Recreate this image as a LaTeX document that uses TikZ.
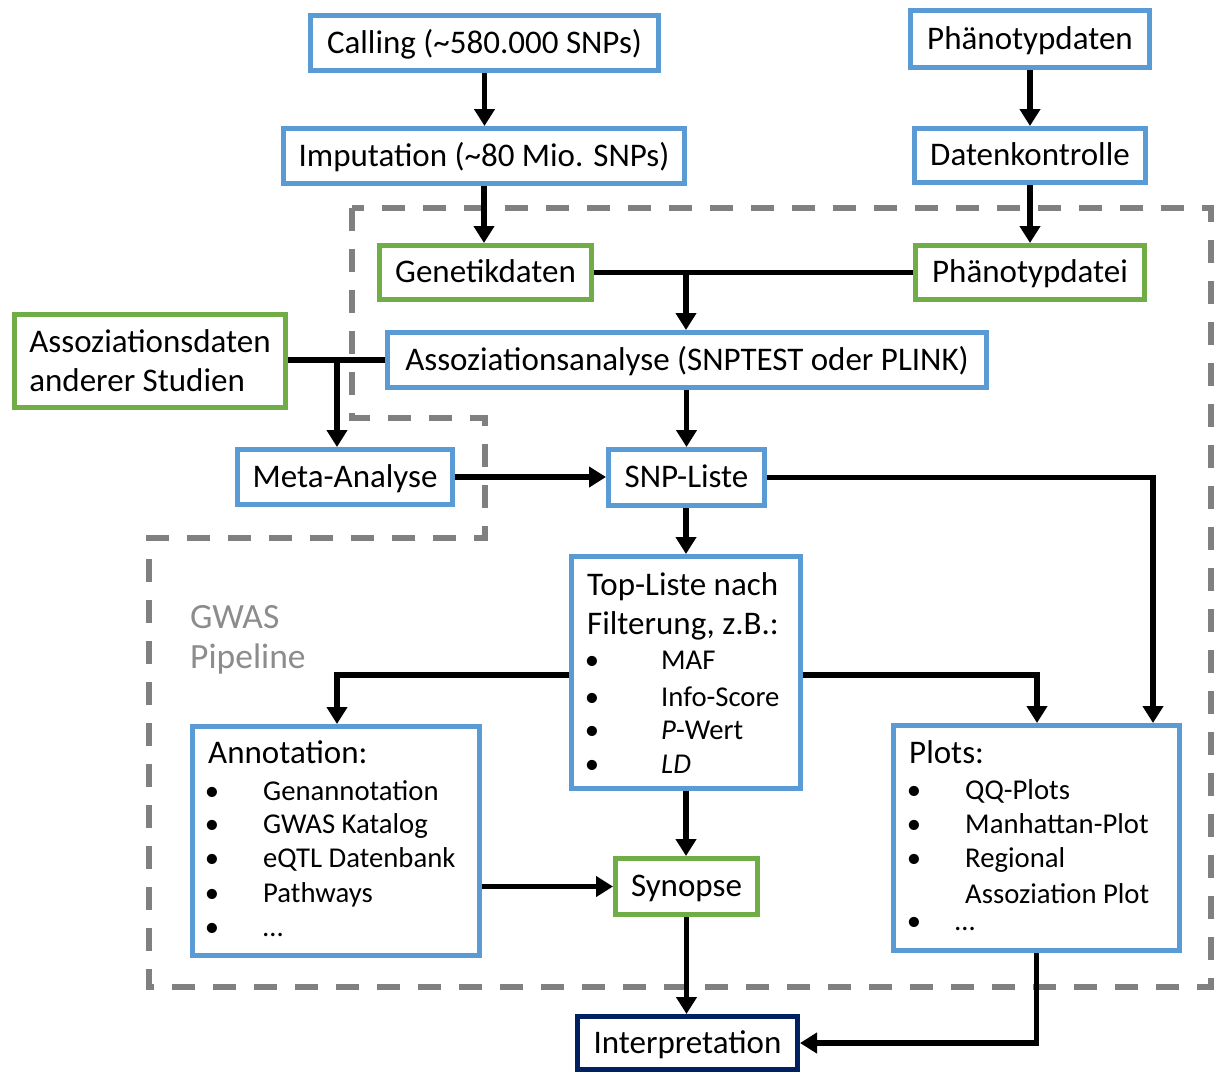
\documentclass[tikz,border=0pt]{standalone}
\usepackage{fontspec}
\setmainfont{Carlito}
\usetikzlibrary{arrows.meta}
\definecolor{bluebox}{RGB}{91,155,213}
\definecolor{greenbox}{RGB}{112,173,71}
\definecolor{navybox}{RGB}{0,32,96}
\definecolor{dashgray}{RGB}{128,128,128}
\definecolor{labelgray}{RGB}{140,140,140}
\newcommand\mybigfont{\fontsize{33}{39}\selectfont}
\newcommand\mysmallfont{\fontsize{28.7}{33}\selectfont}
\newcommand\mylabelfont{\fontsize{35.5}{40}\selectfont}
\begin{document}
\begin{tikzpicture}[x=1pt,y=-1pt,
 box/.style={draw, line width=5pt, fill=white, inner sep=0pt, font=\mybigfont},
 onel/.style={text height=24pt, text depth=4pt},
 bluebx/.style={box, draw=bluebox},
 greenbx/.style={box, draw=greenbox},
 navybx/.style={box, draw=navybox},
 conn/.style={line width=5.5pt, draw=black},
 arr/.style={conn, -{Triangle[length=17pt,width=20pt]}},
 listtxt/.style={anchor=base west, inner sep=0pt, font=\mysmallfont},
 bul/.style={anchor=base, inner sep=0pt, font=\mysmallfont},
 headtxt/.style={anchor=base west, inner sep=0pt, font=\mybigfont},
 region/.style={draw=dashgray, line width=6pt, dash pattern=on 23pt off 18pt},
 regionlabel/.style={anchor=base west, inner sep=0pt, text=labelgray, font=\mylabelfont},
]
\useasboundingbox (0,0) rectangle (1214,1072);
\fill[white] (0,0) rectangle (1214,1072);

% dashed GWAS pipeline region
\draw[region] (352,208) -- (352,418) -- (485,418) -- (485,538) -- (149,538) -- (149,987) -- (1211,987) -- (1211,208) -- cycle;
\node[regionlabel] (gwas1) at (190,628) {GWAS};
\node[regionlabel] (gwas2) at (190,668) {Pipeline};

% boxes
\node[bluebx, onel, minimum width=348pt, minimum height=55pt] (calling) at (484.5,43) {Calling (\textasciitilde580.000 SNPs)};
\node[bluebx, onel, minimum width=401pt, minimum height=55pt] (imput) at (484,156) {Imputation (\textasciitilde80 Mio. SNPs)};
\node[bluebx, onel, minimum width=239pt, minimum height=57pt] (phaen) at (1030,39) {Phänotypdaten};
\node[bluebx, onel, minimum width=231pt, minimum height=54pt] (dkon) at (1030,155.5) {Datenkontrolle};
\node[greenbx, onel, minimum width=212pt, minimum height=54pt] (gen) at (485.5,272.5) {Genetikdaten};
\node[greenbx, onel, minimum width=229pt, minimum height=54pt] (phdatei) at (1030,272.5) {Phänotypdatei};
\node[greenbx, align=left, minimum width=271pt, minimum height=93pt] (andere) at (150,361) {Assoziationsdaten\\anderer Studien};
\node[bluebx, onel, minimum width=599pt, minimum height=55pt] (assoz) at (687,360) {Assoziationsanalyse (SNPTEST oder PLINK)};
\node[bluebx, onel, minimum width=215pt, minimum height=55pt] (meta) at (345,477) {Meta-Analyse};
\node[bluebx, onel, minimum width=156pt, minimum height=56pt] (snp) at (686.5,477.5) {SNP-Liste};
\node[bluebx, minimum width=229pt, minimum height=232pt] (top) at (686,672.5) {};
\node[bluebx, minimum width=287pt, minimum height=229pt] (annot) at (336,841) {};
\node[bluebx, minimum width=286pt, minimum height=225pt] (plots) at (1036.5,838) {};
\node[greenbx, onel, minimum width=142pt, minimum height=56pt] (syn) at (686.5,886.5) {Synopse};
\node[navybx, onel, minimum width=220pt, minimum height=53pt] (interp) at (687.5,1043) {Interpretation};

% Top-Liste contents
\node[headtxt] (toph1) at (587,595) {Top-Liste nach};
\node[headtxt] (toph2) at (587,634) {Filterung, z.B.:};
\node[bul] (topb1) at (592,669) {•};
\node[bul] (topb2) at (592,706) {•};
\node[bul] (topb3) at (592,739) {•};
\node[bul] (topb4) at (592,773) {•};
\node[listtxt] (topi1) at (661,669) {MAF};
\node[listtxt] (topi2) at (661,706) {Info-Score};
\node[listtxt] (topi3) at (661,739) {\textit{P}-Wert};
\node[listtxt] (topi4) at (661,773) {\textit{LD}};

% Annotation contents
\node[headtxt] (annh) at (208,763) {Annotation:};
\node[bul] (annb1) at (212,800) {•};
\node[bul] (annb2) at (212,833) {•};
\node[bul] (annb3) at (212,867) {•};
\node[bul] (annb4) at (212,902) {•};
\node[bul] (annb5) at (212,936) {•};
\node[listtxt] (anni1) at (263,800) {Genannotation};
\node[listtxt] (anni2) at (263,833) {GWAS Katalog};
\node[listtxt] (anni3) at (263,867) {eQTL Datenbank};
\node[listtxt] (anni4) at (263,902) {Pathways};
\node[listtxt] (anni5) at (263,936) {…};

% Plots contents
\node[headtxt] (ploth) at (909,763) {Plots:};
\node[bul] (plotb1) at (914,799) {•};
\node[bul] (plotb2) at (914,833) {•};
\node[bul] (plotb3) at (914,867) {•};
\node[bul] (plotb4) at (914,930) {•};
\node[listtxt] (ploti1) at (965,799) {QQ-Plots};
\node[listtxt] (ploti2) at (965,833) {Manhattan-Plot};
\node[listtxt] (ploti3) at (965,867) {Regional};
\node[listtxt] (ploti3b) at (965,903) {Assoziation Plot};
\node[listtxt] (ploti4) at (955,930) {…};

% connectors
\draw[arr] (calling.south) -- (calling.south |- imput.north);
\draw[arr] (imput.south) -- (imput.south |- gen.north);
\draw[arr] (phaen.south) -- (phaen.south |- dkon.north);
\draw[arr] (dkon.south) -- (dkon.south |- phdatei.north);
\draw[conn] (gen.east) -- (phdatei.west);
\coordinate (jg) at (686,272.5);
\draw[arr] (jg) -- (jg |- assoz.north);
\draw[conn] (andere.east |- assoz.west) -- (assoz.west);
\coordinate (ja) at (337,360);
\draw[arr] (ja) -- (ja |- meta.north);
\draw[arr] (snp.north |- assoz.south) -- (snp.north);
\draw[arr] (meta.east) -- (meta.east -| snp.west);
\coordinate (pr) at (1153,0);
\draw[arr] (snp.east) -| (pr |- plots.north);
\draw[arr] (top.north |- snp.south) -- (top.north);
\coordinate (tl) at (337,675);
\draw[arr] (top.west |- tl) -| (tl |- annot.north);
\coordinate (tr) at (1037,675);
\draw[arr] (top.east |- tr) -| (tr |- plots.north);
\draw[arr] (top.south) -- (top.south |- syn.north);
\draw[arr] (annot.east |- syn.west) -- (syn.west);
\draw[arr] (syn.south) -- (syn.south |- interp.north);
\draw[arr] (plots.south) |- (interp.east);
\end{tikzpicture}
\end{document}
